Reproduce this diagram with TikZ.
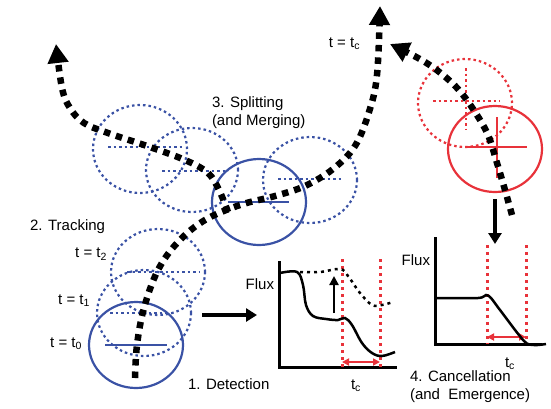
\documentclass[tikz,border=0pt]{standalone}
\usepackage{fontspec}
\setmainfont{Liberation Sans}
\usetikzlibrary{arrows.meta}
\usetikzlibrary{positioning}
\definecolor{spotblue}{RGB}{58,82,165}
\definecolor{spotred}{RGB}{232,50,58}
\tikzset{every picture/.style={x=1pt,y=-1pt,line width=2pt},
every node/.style={font=\fontsize{15}{18}\selectfont,inner sep=0pt},
blob/.style={draw=spotblue,line width=2.2pt},
dotblob/.style={blob,dash pattern=on 2.5pt off 3pt},
redblob/.style={draw=spotred,line width=2.2pt},
dotred/.style={redblob,dash pattern=on 2.5pt off 3pt},
trackpath/.style={line width=6.5pt,dash pattern=on 6.5pt off 6pt,-{Triangle[length=19pt,width=20pt]}},
fluxaxis/.style={line width=3pt,line cap=rect},
cutline/.style={draw=spotred,line width=3pt,dash pattern=on 3pt off 4pt},
span/.style={draw=spotred,line width=2pt,{Triangle[length=7pt,width=7pt]}-{Triangle[length=7pt,width=7pt]}},
bigarrow/.style={line width=3.5pt,-{Triangle[length=11pt,width=13pt]}}}

\begin{document}
\begin{tikzpicture}
\useasboundingbox (0,0) rectangle (551,408);

% tracking
\coordinate (c0) at (136,345);
\coordinate (c1) at (144,313);
\coordinate (c2) at (158,272);
\draw[dotblob] (c2) ellipse [x radius=47pt,y radius=43pt];
\draw[dotblob] (c2) +(-31,0) -- +(42,0);
\draw[dotblob] (c1) ellipse [x radius=47pt,y radius=43pt];
\draw[dotblob] (c1) +(-34,0) -- +(29,0);
\draw[blob] (c0) ellipse [x radius=47pt,y radius=43pt];
\draw[blob] (c0) +(-31,0) -- +(31,0);

% splitting
\coordinate (s1) at (140,149);
\coordinate (s2) at (192,170);
\coordinate (s3) at (310,180);
\coordinate (sm) at (259,202);
\draw[dotblob] (s1) ellipse [x radius=47pt,y radius=44pt];
\draw[dotblob] (s1) +(-32,-2) -- +(42,-2);
\draw[dotblob] (s2) ellipse [x radius=46pt,y radius=42pt];
\draw[dotblob] (s2) +(-30,1) -- +(36,1);
\draw[dotblob] (s3) ellipse [x radius=47pt,y radius=43pt];
\draw[dotblob] (s3) +(-32,-1) -- +(32,-1);
\draw[blob] (sm) ellipse [x radius=47pt,y radius=43pt];
\draw[blob] (sm) +(-31,0) -- +(30,0);

% cancellation
\coordinate (r1) at (465,103);
\coordinate (r2) at (495,149);
\draw[dotred] (r1) ellipse [x radius=47pt,y radius=44pt];
\draw[dotred] (r1) +(-32,-2) -- +(35,-2);
\draw[dotred] (r1) +(1,-35) -- +(1,27);
\draw[redblob] (r2) ellipse [x radius=47pt,y radius=43pt];
\draw[redblob] (r2) +(-30,-2) -- +(32,-2);
\draw[redblob,line width=2.8pt] (r2) +(2,-32) -- +(2,29);

% trajectories
\draw[trackpath] plot[smooth,tension=0.6] coordinates {(135,378) (137,345) (144,308) (158,270) (178,242) (205,220) (240,205) (275,196) (305,186) (333,169) (355,146) (369,112) (377,75) (380,6)};
\draw[trackpath] plot[smooth,tension=0.6] coordinates {(228,212) (219,190) (208,173) (185,160) (147,146) (108,133) (84,123) (70,108) (62,88) (56,44)};
\draw[trackpath] plot[smooth,tension=0.6] coordinates {(512,215) (505,190) (497,163) (488,135) (475,112) (458,89) (438,71) (418,58) (390,44)};

% labels
\node (lsplit) [anchor=west,align=left] at (211,113) {3. Splitting\\(and Merging)};
\node (ltrack) [anchor=west] at (29,227) {2. Tracking};
\node (lt2) [anchor=east] at (108,254) {t = t\textsubscript{2}};
\node (lt1) [anchor=east] at (91,301) {t = t\textsubscript{1}};
\node (lt0) [anchor=east] at (83,344) {t = t\textsubscript{0}};
\node (ltc) [anchor=east] at (361,44) {t = t\textsubscript{c}};
\node (ldetect) [anchor=west] at (187,384) {1. Detection};
\node (lcancel) [anchor=west,align=left] at (409,387) {4. Cancellation\\(and\ \ Emergence)};

% detection plot
\coordinate (o1) at (279,367);
\draw[fluxaxis] (279,262) -- (o1) -- (395,367);
\node (flux1) [anchor=east] at (275,284) {Flux};
\draw[cutline] (342,259) -- (342,367);
\draw[cutline] (380,259) -- (380,367);
\draw[span] (342,362) -- (380,362);
\node (tc1) at (356,386) {t\textsubscript{c}};
\draw[line width=2.5pt] plot[smooth,tension=0.6] coordinates {(280,273) (297,272) (303,285) (306,305) (313,316) (326,319) (338,320) (345,318) (352,325) (362,343) (372,353) (382,356) (395,352)};
\draw[line width=2.5pt,dash pattern=on 3pt off 4pt] plot[smooth,tension=0.6] coordinates {(300,272) (320,272) (340,269) (348,276) (360,293) (372,305) (382,305) (393,302)};
\coordinate (up0) at (334,313);
\coordinate (up1) at (334,276);
\draw[line width=2.5pt,-{Triangle[length=9pt,width=9pt]}] (up0) -- (up1);

% cancellation plot
\coordinate (o2) at (435,344);
\draw[fluxaxis] (435,238) -- (o2) -- (540,344);
\node (flux2) [anchor=east] at (431,260) {Flux};
\draw[cutline] (487,245) -- (487,344);
\draw[cutline] (526,245) -- (526,344);
\draw[span] (487,337) -- (526,337);
\node (tc2) at (510,364) {t\textsubscript{c}};
\draw[line width=2.5pt] plot[smooth,tension=0.5] coordinates {(435,298) (478,298) (486,295) (491,298) (500,310) (524,341) (534,345) (546,344)};

% arrows
\coordinate (detA) at (202,315);
\coordinate (detB) at (257,315);
\draw[bigarrow] (detA) -- (detB);
\coordinate (canA) at (495,199);
\coordinate (canB) at (495,244);
\draw[bigarrow] (canA) -- (canB);
\end{tikzpicture}
\end{document}
